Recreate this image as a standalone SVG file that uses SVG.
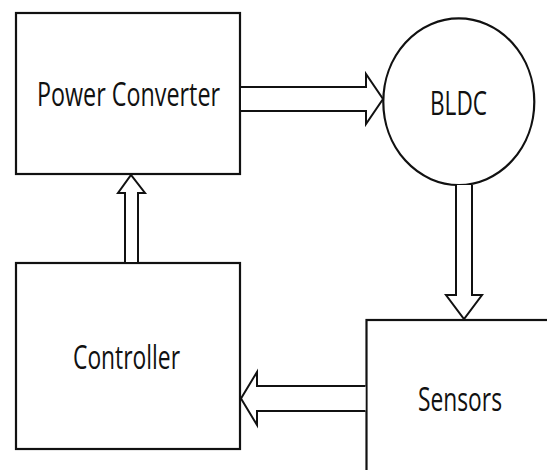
<svg xmlns="http://www.w3.org/2000/svg" width="547" height="470" viewBox="0 0 547 470">
  <style>
    .box { fill: #ffffff; stroke: #111111; stroke-width: 2.2; }
    .arrow { fill: #ffffff; stroke: #111111; stroke-width: 2; stroke-linejoin: miter; }
    .label { font-family: "Open Sans", "Noto Sans", "Liberation Sans", sans-serif; font-size: 32px; fill: #111111; }
  </style>
  <rect x="0" y="0" width="547" height="470" fill="#ffffff"/>
  <g id="power-converter">
    <rect class="box" x="16" y="13" width="224" height="161"/>
    <text class="label" x="37" y="106" textLength="183" lengthAdjust="spacingAndGlyphs">Power Converter</text>
  </g>
  <g id="bldc">
    <ellipse class="box" cx="458.8" cy="101.7" rx="75.5" ry="83.3"/>
    <text class="label" x="430" y="115" textLength="57" lengthAdjust="spacingAndGlyphs">BLDC</text>
  </g>
  <g id="controller">
    <rect class="box" x="16" y="263" width="224" height="186"/>
    <text class="label" x="73" y="368.5" textLength="107" lengthAdjust="spacingAndGlyphs">Controller</text>
  </g>
  <g id="sensors">
    <rect class="box" x="366.5" y="320" width="200" height="170"/>
    <text class="label" x="418" y="411" textLength="84" lengthAdjust="spacingAndGlyphs">Sensors</text>
  </g>
  <g id="connectors">
    <path class="arrow" d="M241,87 H366 V74 L383,99 L366,124 V111 H241"/>
    <path class="arrow" d="M125,262 V193 H118 L131,175 L145,193 H138 V262"/>
    <path class="arrow" d="M456,185 V295 H446 L464,319 L482,295 H472 V185"/>
    <path class="arrow" d="M365.5,386 H257 V372 L241,398.5 L257,425 V411 H365.5"/>
  </g>
</svg>
